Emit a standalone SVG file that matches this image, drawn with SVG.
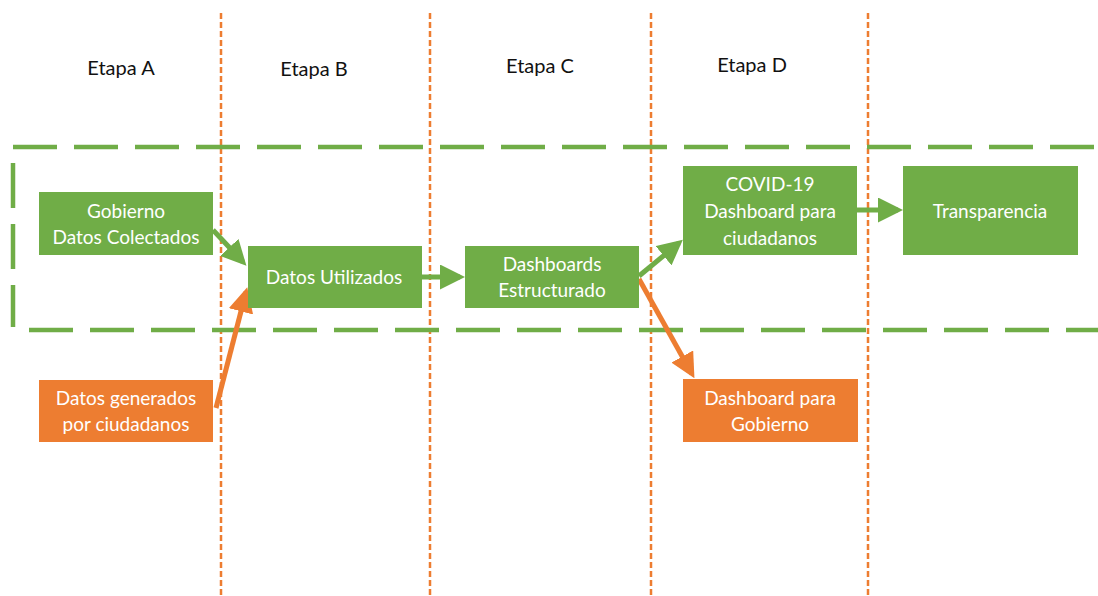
<svg xmlns="http://www.w3.org/2000/svg" width="1098" height="596" viewBox="0 0 1098 596">
<style>
.stage{stroke:#ED7D31;stroke-width:2.5;stroke-dasharray:6 3;fill:none}
.band{stroke:#70AD47;stroke-width:4.5;stroke-dasharray:44 17;fill:none}
.g{fill:#70AD47}
.o{fill:#ED7D31}
.t{font-family:Lato,"Open Sans",sans-serif;font-size:19px;fill:#ffffff;text-anchor:middle}
.h{font-family:Lato,"Open Sans",sans-serif;font-size:20px;fill:#111111;text-anchor:middle}
.cg{stroke:#70AD47;stroke-width:5;fill:none}
.co{stroke:#ED7D31;stroke-width:5;fill:none}
</style>
<defs>
<marker id="ag" markerWidth="5" markerHeight="5" refX="4" refY="2.5" orient="auto" markerUnits="strokeWidth"><path d="M0,0 L5,2.5 L0,5 z" fill="#70AD47"/></marker>
<marker id="ao" markerWidth="5" markerHeight="5" refX="4" refY="2.5" orient="auto" markerUnits="strokeWidth"><path d="M0,0 L5,2.5 L0,5 z" fill="#ED7D31"/></marker>
</defs>
<rect width="1098" height="596" fill="#ffffff"/>
<g id="stages">
<line class="stage" x1="221" y1="13" x2="221" y2="596"/>
<line class="stage" x1="430" y1="13" x2="430" y2="596"/>
<line class="stage" x1="651" y1="13" x2="651" y2="596"/>
<line class="stage" x1="868" y1="13" x2="868" y2="596"/>
</g>
<g id="band">
<line class="band" x1="13" y1="147" x2="1098" y2="147"/>
<line class="band" x1="29" y1="330" x2="1098" y2="330"/>
<line class="band" x1="13" y1="163" x2="13" y2="327" style="stroke-dasharray:45 16"/>
</g>
<g id="labels">
<text class="h" x="121" y="75">Etapa A</text>
<text class="h" x="314" y="76">Etapa B</text>
<text class="h" x="540" y="73">Etapa C</text>
<text class="h" x="752" y="72">Etapa D</text>
</g>
<g id="connectors">
<line class="cg" x1="213" y1="230" x2="243" y2="262" marker-end="url(#ag)"/>
<line class="cg" x1="422" y1="277" x2="460" y2="277" marker-end="url(#ag)"/>
<line class="cg" x1="639" y1="276" x2="679" y2="243" marker-end="url(#ag)"/>
<line class="cg" x1="857" y1="210" x2="898" y2="210" marker-end="url(#ag)"/>
<line class="co" x1="216" y1="408" x2="246" y2="292" marker-end="url(#ao)"/>
<line class="co" x1="639" y1="279" x2="692" y2="374" marker-end="url(#ao)"/>
</g>
<g id="n1"><rect class="g" x="39" y="192" width="174" height="63"/><text class="t" x="126" y="218">Gobierno</text><text class="t" x="126" y="244">Datos Colectados</text></g>
<g id="n2"><rect class="g" x="248" y="246" width="174" height="62"/><text class="t" x="334" y="284">Datos Utilizados</text></g>
<g id="n3"><rect class="g" x="465" y="246" width="174" height="62"/><text class="t" x="552" y="271">Dashboards</text><text class="t" x="552" y="297">Estructurado</text></g>
<g id="n4"><rect class="g" x="683" y="166" width="174" height="89"/><text class="t" x="770" y="191">COVID-19</text><text class="t" x="770" y="218">Dashboard para</text><text class="t" x="770" y="245">ciudadanos</text></g>
<g id="n5"><rect class="g" x="903" y="166" width="175" height="89"/><text class="t" x="990" y="218">Transparencia</text></g>
<g id="n6"><rect class="o" x="39" y="380" width="174" height="62"/><text class="t" x="126" y="405">Datos generados</text><text class="t" x="126" y="431">por ciudadanos</text></g>
<g id="n7"><rect class="o" x="683" y="379" width="175" height="63"/><text class="t" x="770" y="405">Dashboard para</text><text class="t" x="770" y="431">Gobierno</text></g>
</svg>
